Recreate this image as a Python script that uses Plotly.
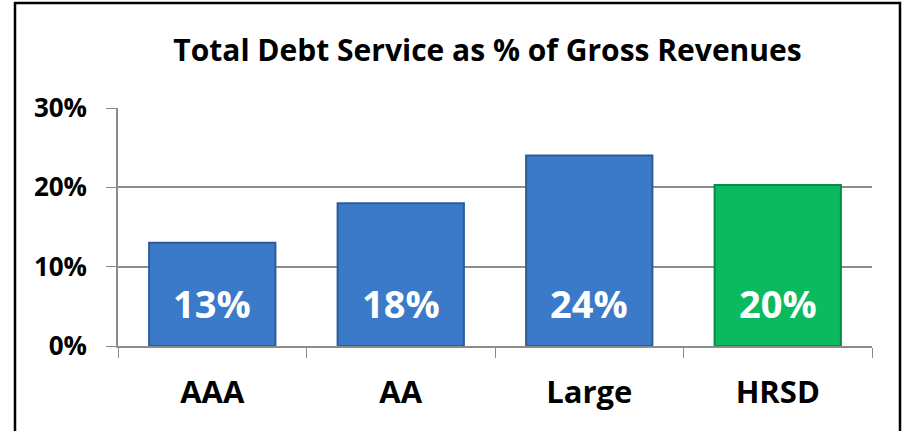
import plotly.graph_objects as go

categories = ["AAA", "AA", "Large", "HRSD"]
values = [0.13, 0.18, 0.24, 0.203]
labels = ["13%", "18%", "24%", "20%"]
fill_colors = ["#3b7ac8", "#3b7ac8", "#3b7ac8", "#0bb95e"]
edge_colors = ["#2b5c98", "#2b5c98", "#2b5c98", "#0a8a48"]
label_y = 0.054
tick_vals = [0, 0.1, 0.2, 0.3]
tick_text = ["0%", "10%", "20%", "30%"]

FONT = "Open Sans"

fig = go.Figure()
fig.add_trace(go.Bar(
    x=categories, y=values,
    marker=dict(color=fill_colors, line=dict(color=edge_colors, width=2)),
    width=0.67, hoverinfo="skip",
))

for c, t in zip(categories, labels):
    fig.add_annotation(x=c, y=label_y, text=t, showarrow=False,
                       font=dict(family=FONT, size=38, color="white", weight="bold"),
                       xref="x", yref="y")

fig.update_layout(
    width=903, height=431,
    margin=dict(l=118, r=31, t=108, b=85),
    paper_bgcolor="white", plot_bgcolor="white",
    showlegend=False,
    title=dict(text="<b>Total Debt Service as % of Gross Revenues</b>",
               x=487.5 / 903, xref="container", xanchor="center",
               y=1 - 50 / 431, yref="container", yanchor="middle",
               font=dict(family=FONT, size=30, color="black")),
    xaxis=dict(showline=True, linecolor="#8c8c8c", linewidth=1.5,
               ticks="outside", tickson="boundaries", ticklen=10, tickcolor="#8c8c8c",
               tickfont=dict(family=FONT, size=31, color="black", weight="bold"),
               ticklabelstandoff=18, showgrid=False),
    yaxis=dict(range=[0, 0.3], tickvals=tick_vals, ticktext=tick_text,
               showline=True, linecolor="#8c8c8c", linewidth=1.5,
               ticks="outside", ticklen=10, tickcolor="#8c8c8c",
               showgrid=True, gridcolor="#8c8c8c", gridwidth=1.5,
               tickfont=dict(family=FONT, size=26, color="black", weight="bold"),
               ticklabelstandoff=14, zeroline=False),
    shapes=[dict(type="rect", xref="paper", yref="paper",
                 x0=(15 - 118) / 754, x1=(900 - 118) / 754,
                 y0=(346 - 445) / 238, y1=(346 - 3) / 238,
                 line=dict(color="black", width=2.5), fillcolor="rgba(0,0,0,0)",
                 layer="below")],
)

fig.write_html("out.html")
